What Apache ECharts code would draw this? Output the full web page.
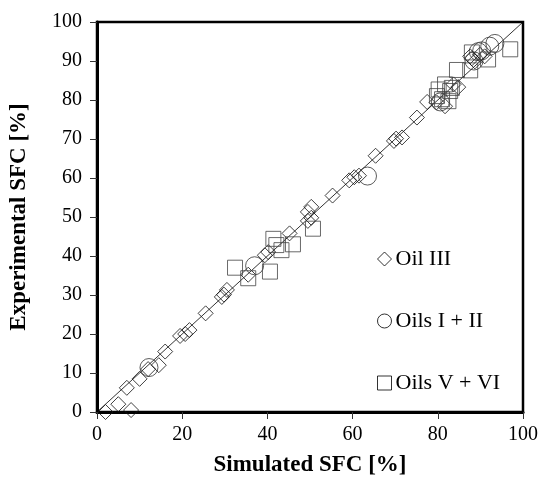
<!DOCTYPE html>
<html><head><meta charset="utf-8">
<script src="https://cdn.jsdelivr.net/npm/echarts@6/dist/echarts.min.js"></script>
<style>html,body{margin:0;padding:0;background:#fff}#c{width:541px;height:482px}</style>
</head><body><div id="c"></div>
<script>
var xTicks = [0, 20, 40, 60, 80, 100];
var yTicks = [0, 10, 20, 30, 40, 50, 60, 70, 80, 90, 100];
var oilIII = [
  [2,0],[5,2],[8,0.5],[7,6.2],[10,8.5],[12,11],[14.5,12],[16,15.5],
  [19.5,19.5],[20.7,20],[21.7,21],[25.5,25.3],[29.3,29.5],[29.8,30.1],[30.5,31.3],
  [35.5,35.2],[39.4,40.2],[40.2,41],[45.2,45.8],[49.5,49],[50.3,49.8],[49.5,51.3],[50.3,52.6],
  [55.3,55.5],[59.2,59.4],[60.4,60.2],[61.5,60.6],[65.4,65.7],[69.7,69.5],[70.2,70.1],[71.6,70.4],
  [75.1,75.5],[77.5,79.5],[79.7,79.4],[81.7,78.4],[83.7,84],[84.8,83.3],[87.6,91.2],[88,90.7],
  [88.7,89.9],[89.9,91.6],[91,91.2]
];
var oilsI_II = [
  [12.2,11.4],[37,37.5],[63.5,60.5],[80.6,79.5],[88.5,90],[89.5,92.4],[90.3,92.6],[92.2,93.8],[93.4,94.5]
];
var oilsV_VI = [
  [32.4,37],[35.5,34.3],[40.6,36],[41.4,44.4],[42.1,42.8],[43.3,41.5],[46,43],[50.7,47],
  [80.2,82.7],[81.7,84],[82.9,82.3],[81,80.2],[79.8,81],[82.5,79.7],[83.3,83.1],
  [84.5,87.7],[87.6,87.6],[88,92.2],[91.8,90.4],[97,93]
];
var diagonal = [[0,0],[100,100]];
var legendNames = ['Oil III', 'Oils I + II', 'Oils V + VI'];

var serif = 'Liberation Serif';
function scat(name, data, sym, size, col) {
  return {
    name: name, type: 'scatter', data: data, symbol: sym, symbolSize: size,
    itemStyle: {color: 'rgba(0,0,0,0)', borderColor: col, borderWidth: 1},
    emphasis: {disabled: true}, z: 3
  };
}
var chart = echarts.init(document.getElementById('c'));
chart.setOption({
  animation: false,
  backgroundColor: '#fff',
  grid: {left: 96, right: 16, top: 22, bottom: 67, show: true, borderColor: '#000', borderWidth: 2.5, backgroundColor: 'transparent'},
  xAxis: {
    type: 'value', min: 0, max: 100, interval: 20,
    name: 'Simulated SFC [%]', nameLocation: 'middle', nameGap: 42,
    nameTextStyle: {fontFamily: serif, fontWeight: 'bold', fontSize: 23, color: '#000'},
    axisLine: {lineStyle: {color: '#000', width: 3}},
    axisTick: {show: true, length: 7, inside: false, lineStyle: {color: '#333', width: 1}},
    axisLabel: {fontFamily: serif, fontSize: 20, color: '#000', margin: 13},
    splitLine: {show: false}
  },
  yAxis: {
    type: 'value', min: 0, max: 100, interval: 10,
    name: 'Experimental SFC [%]', nameLocation: 'middle', nameGap: 66,
    nameTextStyle: {fontFamily: serif, fontWeight: 'bold', fontSize: 23, color: '#000'},
    axisLine: {lineStyle: {color: '#000', width: 3}},
    axisTick: {show: true, length: 7, inside: false, lineStyle: {color: '#333', width: 1}},
    axisLabel: {fontFamily: serif, fontSize: 20, color: '#000', margin: 15},
    splitLine: {show: false}
  },
  legend: {
    orient: 'vertical', left: 372, top: 243, itemGap: 40, itemWidth: 14, itemHeight: 14,
    textStyle: {fontFamily: serif, fontSize: 22, color: '#000', padding: [0,0,0,-1]},
    data: [
      {name: legendNames[0], icon: 'diamond', itemStyle: {color: 'rgba(0,0,0,0)', borderColor: '#000', borderWidth: 1}},
      {name: legendNames[1], icon: 'circle', itemStyle: {color: 'rgba(0,0,0,0)', borderColor: '#000', borderWidth: 1}},
      {name: legendNames[2], icon: 'rect', itemStyle: {color: 'rgba(0,0,0,0)', borderColor: '#000', borderWidth: 1}}
    ],
    selectedMode: false
  },
  series: [
    {type: 'line', data: diagonal, symbol: 'none', lineStyle: {color: '#000', width: 0.8}, silent: true, z: 2},
    scat(legendNames[0], oilIII, 'diamond', 15, '#111'),
    scat(legendNames[1], oilsI_II, 'circle', 18, '#333'),
    scat(legendNames[2], oilsV_VI, 'rect', 15, '#444')
  ]
});
</script></body></html>
